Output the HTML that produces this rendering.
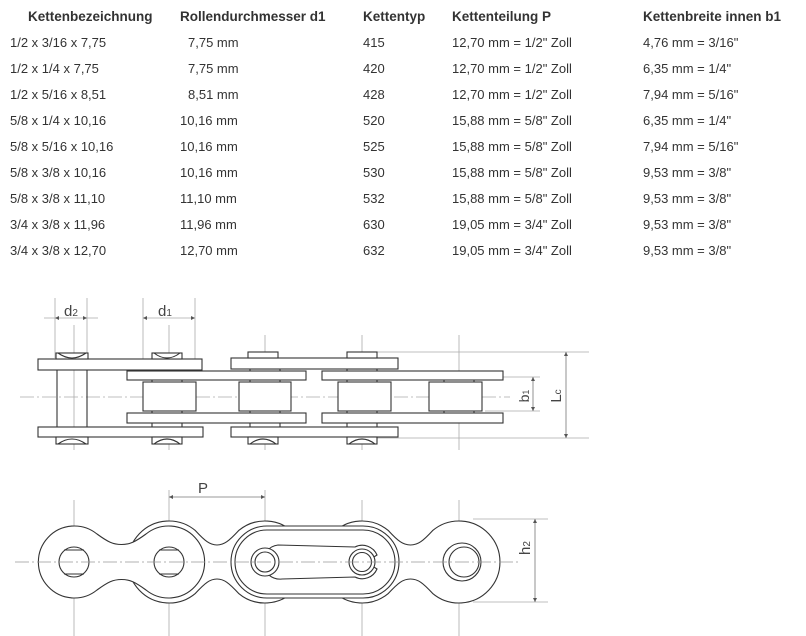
<!DOCTYPE html>
<html><head><meta charset="utf-8"><style>
body{margin:0;background:#fff;width:806px;height:636px;overflow:hidden;position:relative;font-family:"Liberation Sans",Arial,sans-serif;color:#333}
.t{position:absolute;font-size:13px;white-space:pre;line-height:14px}
.h{position:absolute;font-size:13.5px;font-weight:bold;white-space:pre;line-height:16px}
svg{position:absolute;left:0;top:0}
</style></head><body>
<div class="h" style="left:28px;top:9px">Kettenbezeichnung</div>
<div class="h" style="left:180px;top:9px">Rollendurchmesser d1</div>
<div class="h" style="left:363px;top:9px">Kettentyp</div>
<div class="h" style="left:452px;top:9px">Kettenteilung P</div>
<div class="h" style="left:643px;top:9px">Kettenbreite innen b1</div>

<div class="t" style="left:10px;top:36px">1/2 x 3/16 x 7,75</div><div class="t" style="left:188px;top:36px">7,75 mm</div><div class="t" style="left:363px;top:36px">415</div><div class="t" style="left:452px;top:36px">12,70 mm = 1/2" Zoll</div><div class="t" style="left:643px;top:36px">4,76 mm = 3/16"</div>
<div class="t" style="left:10px;top:62px">1/2 x 1/4 x 7,75</div><div class="t" style="left:188px;top:62px">7,75 mm</div><div class="t" style="left:363px;top:62px">420</div><div class="t" style="left:452px;top:62px">12,70 mm = 1/2" Zoll</div><div class="t" style="left:643px;top:62px">6,35 mm = 1/4"</div>
<div class="t" style="left:10px;top:88px">1/2 x 5/16 x 8,51</div><div class="t" style="left:188px;top:88px">8,51 mm</div><div class="t" style="left:363px;top:88px">428</div><div class="t" style="left:452px;top:88px">12,70 mm = 1/2" Zoll</div><div class="t" style="left:643px;top:88px">7,94 mm = 5/16"</div>
<div class="t" style="left:10px;top:114px">5/8 x 1/4 x 10,16</div><div class="t" style="left:180px;top:114px">10,16 mm</div><div class="t" style="left:363px;top:114px">520</div><div class="t" style="left:452px;top:114px">15,88 mm = 5/8" Zoll</div><div class="t" style="left:643px;top:114px">6,35 mm = 1/4"</div>
<div class="t" style="left:10px;top:140px">5/8 x 5/16 x 10,16</div><div class="t" style="left:180px;top:140px">10,16 mm</div><div class="t" style="left:363px;top:140px">525</div><div class="t" style="left:452px;top:140px">15,88 mm = 5/8" Zoll</div><div class="t" style="left:643px;top:140px">7,94 mm = 5/16"</div>
<div class="t" style="left:10px;top:166px">5/8 x 3/8 x 10,16</div><div class="t" style="left:180px;top:166px">10,16 mm</div><div class="t" style="left:363px;top:166px">530</div><div class="t" style="left:452px;top:166px">15,88 mm = 5/8" Zoll</div><div class="t" style="left:643px;top:166px">9,53 mm = 3/8"</div>
<div class="t" style="left:10px;top:192px">5/8 x 3/8 x 11,10</div><div class="t" style="left:180px;top:192px">11,10 mm</div><div class="t" style="left:363px;top:192px">532</div><div class="t" style="left:452px;top:192px">15,88 mm = 5/8" Zoll</div><div class="t" style="left:643px;top:192px">9,53 mm = 3/8"</div>
<div class="t" style="left:10px;top:218px">3/4 x 3/8 x 11,96</div><div class="t" style="left:180px;top:218px">11,96 mm</div><div class="t" style="left:363px;top:218px">630</div><div class="t" style="left:452px;top:218px">19,05 mm = 3/4" Zoll</div><div class="t" style="left:643px;top:218px">9,53 mm = 3/8"</div>
<div class="t" style="left:10px;top:244px">3/4 x 3/8 x 12,70</div><div class="t" style="left:180px;top:244px">12,70 mm</div><div class="t" style="left:363px;top:244px">632</div><div class="t" style="left:452px;top:244px">19,05 mm = 3/4" Zoll</div><div class="t" style="left:643px;top:244px">9,53 mm = 3/8"</div>

<svg width="806" height="636" viewBox="0 0 806 636">
<g stroke="#aaa" stroke-width="0.8" fill="none">
 <line x1="74" y1="325" x2="74" y2="450"/><line x1="169" y1="325" x2="169" y2="450"/>
 <line x1="265" y1="335" x2="265" y2="450"/><line x1="362" y1="335" x2="362" y2="450"/><line x1="459" y1="335" x2="459" y2="450"/>
 <line x1="20" y1="397" x2="510" y2="397" stroke-dasharray="14,3,2,3"/>
 <line x1="55" y1="298" x2="55" y2="358"/><line x1="87" y1="298" x2="87" y2="358"/>
 <line x1="143" y1="298" x2="143" y2="380"/><line x1="195" y1="298" x2="195" y2="380"/>
 <line x1="44" y1="318" x2="98" y2="318"/><line x1="143" y1="318" x2="195" y2="318"/>
 <line x1="377" y1="352" x2="589" y2="352"/><line x1="377" y1="438" x2="589" y2="438"/>
 <line x1="485" y1="377" x2="540" y2="377"/><line x1="485" y1="411" x2="540" y2="411"/>
 <line x1="533" y1="377" x2="533" y2="411" stroke="#777"/><line x1="566" y1="352" x2="566" y2="438" stroke="#777"/>
 <line x1="74" y1="500" x2="74" y2="636"/><line x1="169" y1="490" x2="169" y2="636"/>
 <line x1="265" y1="490" x2="265" y2="636"/><line x1="362" y1="500" x2="362" y2="636"/><line x1="459" y1="500" x2="459" y2="636"/>
 <line x1="169" y1="497" x2="265" y2="497" stroke="#777"/>
 <line x1="473" y1="519" x2="548" y2="519"/><line x1="473" y1="602" x2="548" y2="602"/>
 <line x1="535" y1="519" x2="535" y2="602" stroke="#777"/>
</g>
<g fill="#555">
 <path d="M55,318 l4,-2 v4z M87,318 l-4,-2 v4z M143,318 l4,-2 v4z M195,318 l-4,-2 v4z"/>
 <path d="M533,377 l-2,4 h4z M533,411 l-2,-4 h4z M566,352 l-2,4 h4z M566,438 l-2,-4 h4z"/>
 <path d="M169,497 l4,-2 v4z M265,497 l-4,-2 v4z M535,519 l-2,4 h4z M535,602 l-2,-4 h4z"/>
</g>
<g font-family="Liberation Sans,Arial,sans-serif" fill="#444">
 <text x="64" y="316" font-size="15">d<tspan font-size="10">2</tspan></text>
 <text x="158" y="316" font-size="15">d<tspan font-size="10">1</tspan></text>
 <text x="198" y="493" font-size="15">P</text>
 <text transform="translate(529,396) rotate(-90)" font-size="14" text-anchor="middle">b<tspan font-size="9">1</tspan></text>
 <text transform="translate(561,396) rotate(-90)" font-size="15" text-anchor="middle">L<tspan font-size="10">c</tspan></text>
 <text transform="translate(530,548) rotate(-90)" font-size="15" text-anchor="middle">h<tspan font-size="10">2</tspan></text>
</g>

<g stroke="#333" stroke-width="1.1" fill="#fff">
 <line x1="57" y1="370" x2="57" y2="427"/><line x1="87" y1="370" x2="87" y2="427"/>
 <rect x="152" y="369" width="30" height="60"/><rect x="250" y="369" width="30" height="60"/>
 <rect x="347" y="369" width="30" height="60"/><rect x="444" y="378" width="30" height="36"/>
 <rect x="127" y="371" width="179" height="9"/><rect x="322" y="371" width="181" height="9"/>
 <rect x="127" y="413" width="179" height="10"/><rect x="322" y="413" width="181" height="10"/>
 <rect x="143" y="382" width="53" height="29"/><rect x="239" y="382" width="52" height="29"/>
 <rect x="338" y="382" width="53" height="29"/><rect x="429" y="382" width="53" height="29"/>
 <rect x="38" y="359" width="164" height="11"/><rect x="231" y="358" width="167" height="11"/>
 <rect x="38" y="427" width="165" height="10"/><rect x="231" y="427" width="167" height="10"/>
 <rect x="56" y="353" width="32" height="6"/><path d="M58,353 Q72,363 86,353" fill="none"/>
 <rect x="152" y="353" width="30" height="6"/><path d="M154,353 Q167,363 180,353" fill="none"/>
 <rect x="248" y="352" width="30" height="6"/><rect x="347" y="352" width="30" height="6"/>
 <rect x="56" y="437" width="32" height="7"/><path d="M58,444 Q72,434 86,444" fill="none"/>
 <rect x="152" y="437" width="30" height="7"/><path d="M154,444 Q167,434 180,444" fill="none"/>
 <rect x="248" y="437" width="30" height="7"/><path d="M250,444 Q263,434 276,444" fill="none"/>
 <rect x="347" y="437" width="30" height="7"/><path d="M349,444 Q362,434 375,444" fill="none"/>

 <path d="M195.4,530.6 C205,541 210,545 217,545 C224,545 229,541 238.6,530.6 A41 41 0 1 1 238.6,593.4 C229,583 224,579 217,579 C210,579 205,583 195.4,593.4 A41 41 0 1 1 195.4,530.6Z"/>
 <path d="M388.4,530.6 C398,541 403,545 410.5,545 C418,545 423,541 432.6,530.6 A41 41 0 1 1 432.6,593.4 C423,583 418,579 410.5,579 C403,579 398,583 388.4,593.4 A41 41 0 1 1 388.4,530.6Z"/>
 <path d="M97,534 C108,542 113,544.5 121.5,544.5 C130,544.5 135,542 146,534 A36 36 0 1 1 146,590 C135,582 130,579.5 121.5,579.5 C113,579.5 108,582 97,590 A36 36 0 1 1 97,534Z"/>
 <rect x="231" y="526" width="168" height="72" rx="36"/>
 <rect x="235" y="530" width="160" height="64" rx="32" fill="none"/>
 <circle cx="74" cy="562" r="15"/><line x1="64" y1="550" x2="84" y2="550"/><line x1="64" y1="574" x2="84" y2="574"/>
 <circle cx="169" cy="562" r="15"/><line x1="159" y1="550" x2="179" y2="550"/><line x1="159" y1="574" x2="179" y2="574"/>
 <path d="M278,545 L355,547 A16 16 0 0 1 377,555 L369,560 L369,564 L377,569 A16 16 0 0 1 355,577 L282,579 A17 17 0 0 1 278,545Z"/>
 <circle cx="265" cy="562" r="14"/><circle cx="265" cy="562" r="10"/>
 <circle cx="362" cy="562" r="13"/><circle cx="362" cy="562" r="9.5"/>
 <circle cx="462" cy="562" r="19"/><circle cx="464" cy="562" r="15"/>
</g>
<line x1="15" y1="562" x2="520" y2="562" stroke="#999" stroke-width="0.8" stroke-dasharray="14,3,2,3"/>
</svg>
</body></html>
